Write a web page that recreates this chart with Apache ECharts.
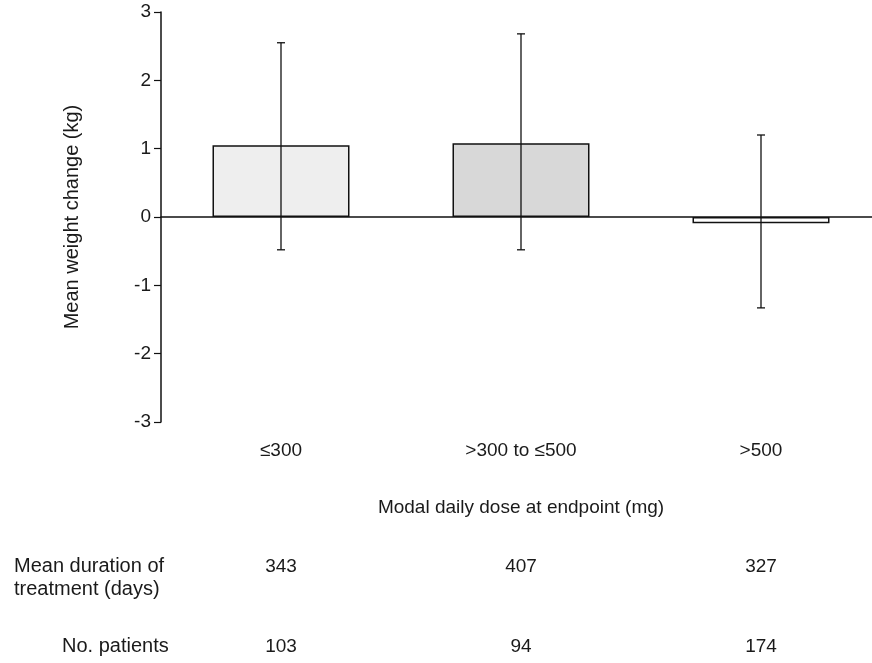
<!DOCTYPE html>
<html>
<head>
<meta charset="utf-8">
<script src="https://cdn.jsdelivr.net/npm/echarts@6/dist/echarts.min.js"></script>
<style>html,body{margin:0;padding:0;background:#fff;overflow:hidden;width:872px;height:663px}#c{width:881px;height:663px}</style>
</head>
<body>
<div id="c"></div>
<script>
const categories = ['≤300', '>300 to ≤500', '>500'];
const meanChange = [1.05, 1.08, -0.09];
const errHigh = [2.55, 2.68, 1.20];
const errLow = [-0.48, -0.48, -1.33];
const durations = ['343', '407', '327'];
const patients = ['103', '94', '174'];
const yTicks = [-3, -2, -1, 0, 1, 2, 3];
const barColors = ['#eeeeee', '#d8d8d8', '#ffffff'];

const FONT = '"Liberation Sans", Arial, Helvetica, sans-serif';
const TXT = '#1a1a1a';
const FS = 19;
const chart = echarts.init(document.getElementById('c'));

const hiddenAxis = {show: true, axisTick: {show: false}, splitLine: {show: false}, axisLine: {show: false, onZero: false}};

chart.setOption({
  animation: false,
  backgroundColor: '#fff',
  grid: {left: 161, right: 0, top: 12, bottom: 241, containLabel: false},
  xAxis: [
    {type: 'category', data: categories, position: 'bottom',
     axisLine: {onZero: true, lineStyle: {color: '#111', width: 1.5}},
     axisTick: {show: false}, axisLabel: {show: false}, splitLine: {show: false}},
    Object.assign({type: 'category', data: categories, position: 'bottom', offset: 0,
     axisLabel: {margin: 19, fontFamily: FONT, fontSize: FS, color: TXT},
     name: 'Modal daily dose at endpoint (mg)', nameLocation: 'middle', nameGap: 76,
     nameTextStyle: {fontFamily: FONT, fontSize: FS, color: TXT}}, hiddenAxis),
    Object.assign({type: 'category', data: durations, position: 'bottom', offset: 135,
     axisLabel: {margin: 0, fontFamily: FONT, fontSize: FS, color: TXT}}, hiddenAxis),
    Object.assign({type: 'category', data: patients, position: 'bottom', offset: 215,
     axisLabel: {margin: 0, fontFamily: FONT, fontSize: FS, color: TXT}}, hiddenAxis)
  ],
  yAxis: {
    type: 'value', min: yTicks[0], max: yTicks[yTicks.length - 1], interval: 1,
    axisLine: {show: true, lineStyle: {color: '#111', width: 1.5}},
    axisTick: {show: true, inside: false, length: 7, lineStyle: {color: '#111', width: 1.2}},
    axisLabel: {margin: 10, fontFamily: FONT, fontSize: FS, color: TXT},
    splitLine: {show: false},
    name: 'Mean weight change (kg)', nameLocation: 'middle', nameRotate: 90, nameGap: 79,
    nameTextStyle: {fontFamily: FONT, fontSize: 20, color: TXT}
  },
  graphic: [
    {type: 'text', left: 14, top: 555, style: {text: 'Mean duration of\ntreatment (days)', font: '20px ' + FONT, fill: TXT, lineHeight: 23}},
    {type: 'text', left: 62, top: 636, style: {text: 'No. patients', font: '20px ' + FONT, fill: TXT}}
  ],
  series: [
    {type: 'bar', xAxisIndex: 0, barWidth: 137, z: 2,
     data: meanChange.map((v, i) => ({value: v, itemStyle: {color: barColors[i]}})),
     itemStyle: {borderColor: '#111', borderWidth: 1.5}},
    {type: 'custom', xAxisIndex: 0, z: 3,
     data: categories.map((c, i) => [i, errLow[i], errHigh[i]]),
     renderItem: function (params, api) {
       const x = api.value(0);
       const lo = api.coord([x, api.value(1)]);
       const hi = api.coord([x, api.value(2)]);
       const cap = 4;
       const st = {stroke: '#111', lineWidth: 1.3};
       return {type: 'group', children: [
         {type: 'line', shape: {x1: lo[0], y1: lo[1], x2: hi[0], y2: hi[1]}, style: st},
         {type: 'line', shape: {x1: hi[0] - cap, y1: hi[1], x2: hi[0] + cap, y2: hi[1]}, style: st},
         {type: 'line', shape: {x1: lo[0] - cap, y1: lo[1], x2: lo[0] + cap, y2: lo[1]}, style: st}
       ]};
     }}
  ]
});
</script>
</body>
</html>
